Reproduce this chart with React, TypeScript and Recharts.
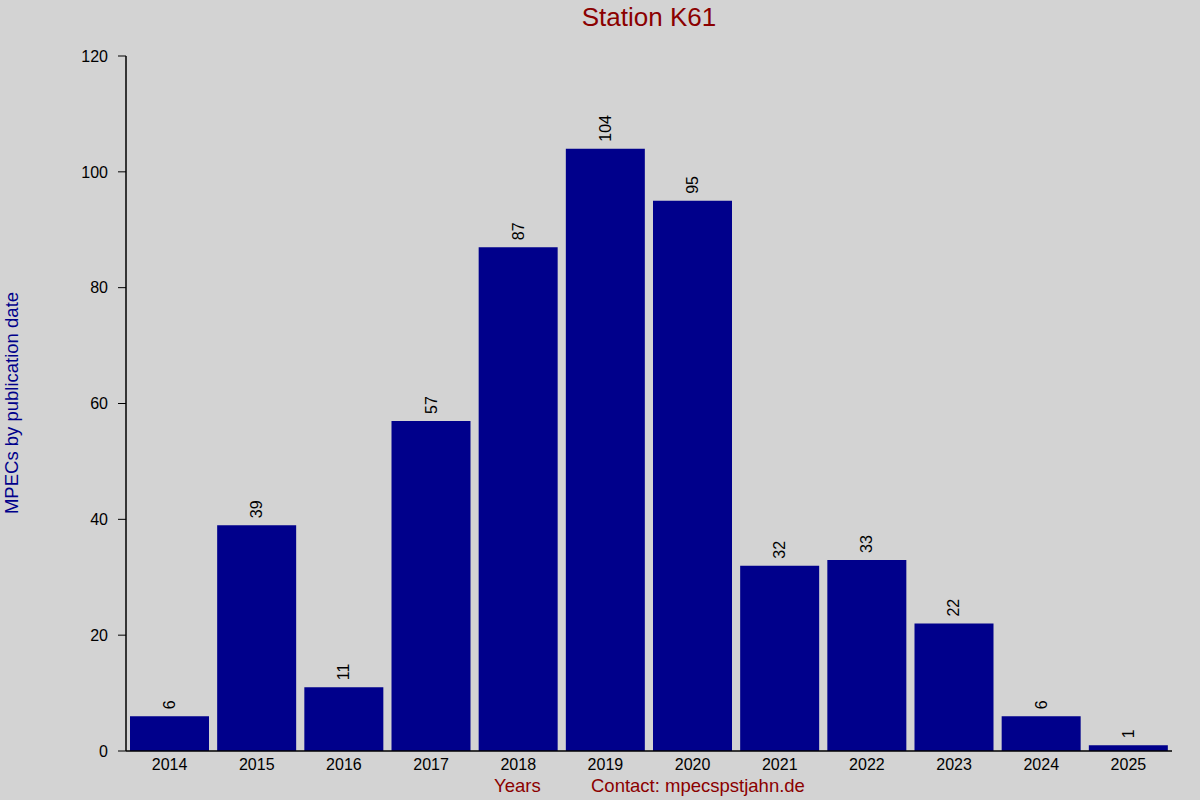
import { BarChart, Bar, XAxis, YAxis, LabelList } from 'recharts';

const years = ['2014', '2015', '2016', '2017', '2018', '2019', '2020', '2021', '2022', '2023', '2024', '2025'];
const mpecs = [6, 39, 11, 57, 87, 104, 95, 32, 33, 22, 6, 1];
const yTicks = [0, 20, 40, 60, 80, 100, 120];

const data = years.map((year, i) => ({ year, count: mpecs[i] }));

const FONT = '"Liberation Sans", Arial, sans-serif';

const BarValue = (props: any) => {
  const { x, y, width, value } = props;
  const cx = x + width / 2;
  const cy = y - 7;
  return (
    <text
      x={cx}
      y={cy}
      transform={`rotate(-90 ${cx} ${cy})`}
      textAnchor="start"
      dominantBaseline="central"
      fontSize={16}
      fontFamily={FONT}
      fill="#000"
    >
      {value}
    </text>
  );
};

export default function App() {
  return (
    <div style={{ position: 'absolute', left: 0, top: 0, width: 1200, height: 800, background: '#d3d3d3', fontFamily: FONT }}>
      <BarChart
        width={1200}
        height={800}
        data={data}
        margin={{ top: 56, right: 28, bottom: 19, left: 0 }}
        barCategoryGap={4}
      >
        <XAxis
          dataKey="year"
          height={30}
          axisLine={{ stroke: '#000', strokeWidth: 1.5 }}
          tickLine={false}
          tick={{ fill: '#000', fontSize: 16, fontFamily: FONT }}
          tickMargin={2}
          interval={0}
        />
        <XAxis
          xAxisId="top"
          orientation="top"
          dataKey="year"
          height={0}
          axisLine={false}
          tickSize={1}
          tickLine={{ stroke: '#000' }}
          tick={() => <g />}
          interval={0}
        />
        <YAxis
          width={126}
          domain={[0, 120]}
          ticks={yTicks}
          axisLine={{ stroke: '#000', strokeWidth: 1.5 }}
          tickLine={{ stroke: '#000' }}
          tickSize={8}
          tickMargin={10}
          tick={{ fill: '#000', fontSize: 16, fontFamily: FONT }}
        />
        <Bar dataKey="count" fill="#00008b" isAnimationActive={false}>
          <LabelList dataKey="count" content={BarValue} />
        </Bar>
      </BarChart>
      <div style={{ position: 'absolute', left: 0, width: 1298, top: 2, textAlign: 'center', fontSize: 26, color: '#8b0000' }}>
        Station K61
      </div>
      <div
        style={{
          position: 'absolute',
          left: 12,
          top: 403,
          transform: 'translate(-50%, -50%) rotate(-90deg)',
          whiteSpace: 'nowrap',
          fontSize: 18.5,
          color: '#00008b',
        }}
      >
        MPECs by publication date
      </div>
      <div style={{ position: 'absolute', left: 494, top: 775, fontSize: 18.5, color: '#8b0000', whiteSpace: 'nowrap' }}>
        Years
      </div>
      <div style={{ position: 'absolute', left: 591, top: 775, fontSize: 18.5, color: '#8b0000', whiteSpace: 'nowrap' }}>
        Contact: mpecspstjahn.de
      </div>
    </div>
  );
}
